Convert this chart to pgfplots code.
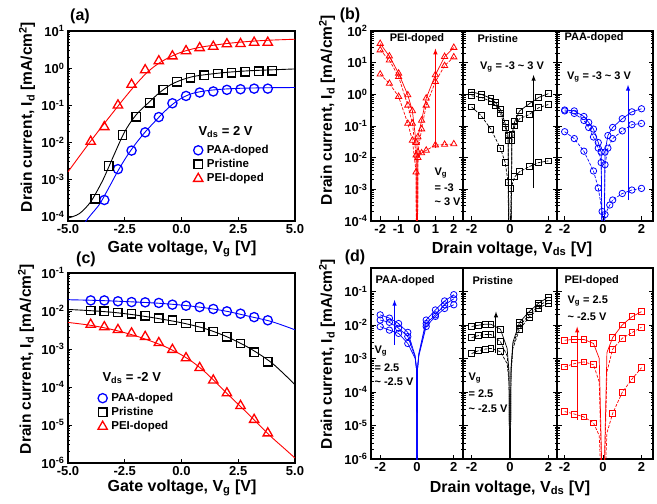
\documentclass[border=0pt]{standalone}
\usepackage{pgfplots}
\pgfplotsset{compat=1.18}
\usepackage{fontspec}
\setmainfont{Liberation Sans}
\newcommand{\fs}[1]{\fontsize{#1}{#1}\selectfont\bfseries}
\newcommand{\tl}{\textasciitilde}

\pgfplotsset{log number format basis/.code 2 args={#1\textsuperscript{\pgfmathprintnumber{#2}}}}
\pgfplotsset{
  /pgfplots/panel/.style={scale only axis, anchor=south west,
    axis line style={line width=1.1pt},
    every tick/.style={black, line width=0.8pt},
    major tick length=4.5pt, minor tick length=2.5pt,
    tick label style={font=\fs{13}},
    /pgf/number format/assume math mode=true},
  /pgfplots/bigp/.style={panel, width=227pt, height=190pt, xmin=-5, xmax=5,
    xtick={-5,-2.5,0,2.5,5}, xticklabels={-5.0,-2.5,0.0,2.5,5.0}, tick pos=left,
    legend cell align=left,
    legend style={draw=none, fill=none, anchor=north west, font=\fs{11.5},
      row sep=4pt, column sep=4pt,
      nodes={inner sep=0pt, text height=8pt, text depth=2pt}}},
  /pgfplots/subp/.style={panel, xtick pos=left, ytick pos=both},
  /pgfplots/pmk/.style={only marks, mark size=#1, line width=1.3pt},
  /pgfplots/cfit/.style={no markers, smooth, line width=0.9pt},
  /pgfplots/lsol/.style={no markers, line width=0.7pt},
  /pgfplots/ldash/.style={no markers, line width=0.7pt, dash pattern=on 3pt off 1.5pt},
  /pgfplots/smk/.style={only marks, line width=0.8pt, mark size=#1},
}

\begin{document}
\begin{tikzpicture}
\useasboundingbox (0,0) rectangle (657pt,504pt);

% ---------------- (a)
\begin{semilogyaxis}[bigp, at={(68pt,283pt)}, ymin=7.6e-5, ymax=10, ytickten={-4,...,1},
  legend style={at={(0.539,0.41)}}]
\addplot[blue, cfit, forget plot] coordinates {(-4.25,7e-5) (-4,1.1e-4) (-3.6,2.2e-4) (-3.2,6e-4) (-2.8,1.7e-3) (-2.4,4.3e-3) (-2.0,9.5e-3) (-1.6,0.019) (-1.2,0.035) (-0.8,0.063) (-0.4,0.105) (0,0.155) (0.4,0.2) (0.8,0.23) (1.2,0.25) (1.6,0.265) (2,0.275) (2.5,0.285) (3,0.29) (4,0.297) (5,0.3)};
\addplot[black, cfit, forget plot] coordinates {(-5,9.1e-5) (-4.5,1.2e-4) (-4,2.5e-4) (-3.5,8.7e-4) (-3.2,2.2e-3) (-3.0,4.2e-3) (-2.5,0.0195) (-2,0.055) (-1.5,0.11) (-1,0.21) (-0.5,0.35) (0,0.48) (0.5,0.59) (1,0.66) (2,0.77) (3,0.85) (4,0.9) (5,0.95)};
\addplot[red, cfit, forget plot] coordinates {(-5,1.6e-3) (-4.5,4.2e-3) (-4,0.0108) (-3.5,0.027) (-3,0.066) (-2.5,0.16) (-2,0.37) (-1.5,0.78) (-1,1.35) (-0.5,2.0) (0,2.7) (0.5,3.3) (1,3.8) (1.5,4.2) (2,4.6) (2.5,4.95) (3,5.25) (3.5,5.5) (4,5.7) (4.5,5.85) (5,6.0)};
\addplot[blue, pmk=4.6pt, mark=o] coordinates {(-3.4,2.8e-4) (-2.8,1.9e-3) (-2.2,6e-3) (-1.6,0.0186) (-1.0,0.048) (-0.4,0.113) (0.2,0.178) (0.8,0.22) (1.4,0.235) (2.0,0.26) (2.6,0.27) (3.2,0.28) (3.8,0.28)};
\addlegendentry{PAA-doped}
\addplot[black, pmk=4.2pt, mark=square] coordinates {(-3.8,3e-4) (-3.2,2.3e-3) (-2.6,0.0158) (-2.0,0.049) (-1.4,0.117) (-0.8,0.26) (-0.2,0.43) (0.4,0.55) (1.0,0.65) (1.6,0.72) (2.2,0.75) (2.8,0.8) (3.4,0.83) (4.0,0.85)};
\addlegendentry{Pristine}
\addplot[red, pmk=5.4pt, mark=triangle] coordinates {(-4.0,0.0105) (-3.4,0.026) (-2.8,0.10) (-2.2,0.36) (-1.6,0.89) (-1.0,1.55) (-0.4,2.1) (0.2,2.9) (0.8,3.5) (1.4,3.8) (2.0,4.45) (2.6,4.5) (3.2,4.9) (3.8,4.9)};
\addlegendentry{PEI-doped}
\end{semilogyaxis}

% ---------------- (b)
\begin{semilogyaxis}[subp, at={(371pt,283pt)}, width=92pt, height=190pt, xmin=-2.5, xmax=2.5,
  ymin=1e-4, ymax=100, ytickten={-4,...,2}, xtick={-2,-1,0,1,2}]
\addplot[red, lsol] coordinates {(-2,40) (-1.5,16) (-1,4.6) (-0.5,0.95) (-0.25,0.3) (-0.05,0.03) (0,1e-8) (0.05,0.045) (0.25,0.15) (0.5,0.75) (1,4.1) (1.5,15.5) (2,30)};
\addplot[red, ldash] coordinates {(-2,25) (-1.5,12) (-1,3.6) (-0.5,0.45) (-0.25,0.12) (-0.05,0.012) (0,1e-8) (0.05,0.015) (0.25,0.08) (0.5,0.45) (1,2.5) (1.5,8) (2,15)};
\addplot[red, ldash] coordinates {(-2,4.3) (-1.5,2.2) (-1,0.85) (-0.5,0.12) (-0.25,0.035) (-0.05,0.0035) (0,1e-8) (0.05,0.01) (0.25,0.014) (0.5,0.017) (1,0.025) (1.5,0.026) (2,0.027)};
\addplot[red, smk=3.6pt, mark=triangle] coordinates {(-2,40) (-1.5,16) (-1,4.6) (-0.5,0.95) (-0.25,0.3) (-0.05,0.03) (0.05,0.045) (0.25,0.15) (0.5,0.75) (1,4.1) (1.5,15.5) (2,30)};
\addplot[red, smk=3.6pt, mark=triangle] coordinates {(-2,25) (-1.5,12) (-1,3.6) (-0.5,0.45) (-0.25,0.12) (-0.05,0.012) (0.05,0.015) (0.25,0.08) (0.5,0.45) (1,2.5) (1.5,8) (2,15)};
\addplot[red, smk=3.6pt, mark=triangle] coordinates {(-2,4.3) (-1.5,2.2) (-1,0.85) (-0.5,0.12) (-0.25,0.035) (-0.05,0.0035) (0.05,0.01) (0.25,0.014) (0.5,0.017) (1,0.025) (1.5,0.026) (2,0.027)};
\draw[red, line width=1pt, -latex] (axis cs:1.0,0.02) -- (axis cs:1.0,28);
\end{semilogyaxis}

\begin{semilogyaxis}[subp, at={(463pt,283pt)}, width=94pt, height=190pt, xmin=-2.45, xmax=2.45,
  ymin=1e-4, ymax=100, ytickten={-4,...,2}, yticklabels={}, xtick={-2,0,2}]
\addplot[black, lsol] coordinates {(-2,1.2) (-1.5,1.0) (-1,0.75) (-0.75,0.55) (-0.5,0.33) (-0.25,0.12) (-0.1,0.05) (0,1e-8) (0.1,0.055) (0.25,0.14) (0.5,0.3) (1,0.5) (1.5,0.8) (2,1.05)};
\addplot[black, ldash] coordinates {(-2,0.9) (-1.5,0.8) (-1,0.6) (-0.75,0.45) (-0.5,0.25) (-0.25,0.09) (-0.1,0.035) (0,1e-8) (0.1,0.035) (0.25,0.1) (0.5,0.17) (1,0.23) (1.5,0.38) (2,0.48)};
\addplot[black, ldash] coordinates {(-2,0.4) (-1.5,0.21) (-1,0.08) (-0.5,0.02) (-0.25,0.007) (-0.1,0.0017) (0,1e-8) (0.05,0.0011) (0.25,0.0025) (0.5,0.0036) (1,0.0052) (1.5,0.007) (2,0.0079)};
\addplot[black, smk=2.9pt, mark=square] coordinates {(-2,1.2) (-1.5,1.0) (-1,0.75) (-0.75,0.55) (-0.5,0.33) (-0.25,0.12) (-0.1,0.05) (0.1,0.055) (0.25,0.14) (0.5,0.3) (1,0.5) (1.5,0.8) (2,1.05)};
\addplot[black, smk=2.9pt, mark=square] coordinates {(-2,0.9) (-1.5,0.8) (-1,0.6) (-0.75,0.45) (-0.5,0.25) (-0.25,0.09) (-0.1,0.035) (0.1,0.035) (0.25,0.1) (0.5,0.17) (1,0.23) (1.5,0.38) (2,0.48)};
\addplot[black, smk=2.9pt, mark=square] coordinates {(-2,0.4) (-1.5,0.21) (-1,0.08) (-0.5,0.02) (-0.25,0.007) (-0.1,0.0017) (0.05,0.0011) (0.25,0.0025) (0.5,0.0036) (1,0.0052) (1.5,0.007) (2,0.0079)};
\draw[black, line width=1pt, -latex] (axis cs:1.23,1.1e-3) -- (axis cs:1.23,4.1);
\end{semilogyaxis}

\begin{semilogyaxis}[subp, at={(557pt,283pt)}, width=96pt, height=190pt, xmin=-2.4, xmax=2.6,
  ymin=1e-4, ymax=100, ytickten={-4,...,2}, yticklabels={}, xtick={-2,0,2}]
\addplot[blue, lsol] coordinates {(-2,0.32) (-1.5,0.3) (-1,0.2) (-0.75,0.13) (-0.5,0.08) (-0.25,0.03) (-0.1,0.015) (0,1e-8) (0.1,0.015) (0.25,0.05) (0.5,0.09) (1,0.17) (1.5,0.28) (2,0.35)};
\addplot[blue, ldash] coordinates {(-2,0.3) (-1.5,0.25) (-1,0.15) (-0.75,0.09) (-0.5,0.045) (-0.25,0.02) (-0.1,0.007) (0,1e-8) (0.1,0.006) (0.25,0.02) (0.5,0.04) (1,0.07) (1.5,0.11) (2,0.12)};
\addplot[blue, ldash] coordinates {(-2,0.066) (-1.5,0.04) (-1,0.016) (-0.5,0.0038) (-0.25,0.0011) (-0.05,0.0002) (0,1e-8) (0.1,0.00016) (0.35,0.00032) (0.5,0.00046) (1,0.00074) (1.5,0.00095) (2,0.00107)};
\addplot[blue, smk=3.2pt, mark=o] coordinates {(-2,0.32) (-1.5,0.3) (-1,0.2) (-0.75,0.13) (-0.5,0.08) (-0.25,0.03) (-0.1,0.015) (0.1,0.015) (0.25,0.05) (0.5,0.09) (1,0.17) (1.5,0.28) (2,0.35)};
\addplot[blue, smk=3.2pt, mark=o] coordinates {(-2,0.3) (-1.5,0.25) (-1,0.15) (-0.75,0.09) (-0.5,0.045) (-0.25,0.02) (-0.1,0.007) (0.1,0.006) (0.25,0.02) (0.5,0.04) (1,0.07) (1.5,0.11) (2,0.12)};
\addplot[blue, smk=3.2pt, mark=o] coordinates {(-2,0.066) (-1.5,0.04) (-1,0.016) (-0.5,0.0038) (-0.25,0.0011) (-0.05,0.0002) (0.1,0.00016) (0.35,0.00032) (0.5,0.00046) (1,0.00074) (1.5,0.00095) (2,0.00107)};
\draw[blue, line width=1pt, -latex] (axis cs:1.3,4.6e-4) -- (axis cs:1.3,2.0);
\end{semilogyaxis}

% ---------------- (c)
\begin{semilogyaxis}[bigp, at={(68pt,41pt)}, ymin=1e-6, ymax=0.1, ytickten={-6,...,-1},
  legend style={at={(0.118,0.379)}}]
\addplot[blue, cfit, forget plot] coordinates {(-5,0.0198) (-4,0.0192) (-3,0.0183) (-2,0.0172) (-1,0.016) (0,0.0143) (1,0.0122) (2,0.0098) (3,0.0072) (4,0.0052) (5,0.0032)};
\addplot[black, cfit, forget plot] coordinates {(-5,0.011) (-4,0.0102) (-3,0.0092) (-2,0.0078) (-1,0.0063) (0,0.0049) (1,0.0035) (2,0.0021) (3,0.00105) (4,4.2e-4) (5,1.15e-4)};
\addplot[red, cfit, forget plot] coordinates {(-5,5e-3) (-4,4.2e-3) (-3,3.2e-3) (-2,2.2e-3) (-1,1.35e-3) (-0.5,1.0e-3) (0,7e-4) (0.5,4.5e-4) (1,2.6e-4) (1.5,1.35e-4) (2,6.8e-5) (2.5,3.5e-5) (3,1.8e-5) (3.5,9e-6) (4,4.6e-6) (4.5,2.5e-6) (5,1.35e-6)};
\addplot[blue, pmk=4.6pt, mark=o] coordinates {(-4.0,0.019) (-3.4,0.019) (-2.8,0.018) (-2.2,0.0172) (-1.6,0.0169) (-1.0,0.0163) (-0.4,0.0147) (0.2,0.0138) (0.8,0.0127) (1.4,0.0113) (2.0,0.0098) (2.6,0.0085) (3.2,0.0069) (3.8,0.0057)};
\addlegendentry{PAA-doped}
\addplot[black, pmk=4.2pt, mark=square] coordinates {(-4.0,0.0104) (-3.4,0.0098) (-2.8,0.0092) (-2.2,0.0085) (-1.6,0.0075) (-1.0,0.0065) (-0.4,0.0057) (0.2,0.0047) (0.8,0.0038) (1.4,0.0029) (2.0,0.0021) (2.6,0.00139) (3.2,8.3e-4) (3.8,4.6e-4)};
\addlegendentry{Pristine}
\addplot[red, pmk=5.4pt, mark=triangle] coordinates {(-4.0,0.0044) (-3.4,0.0038) (-2.8,0.0032) (-2.2,0.0026) (-1.6,0.0021) (-1.0,0.00145) (-0.4,9.6e-4) (0.2,5.8e-4) (0.8,3.2e-4) (1.4,1.5e-4) (2.0,6.9e-5) (2.6,3.2e-5) (3.2,1.38e-5) (3.8,6.1e-6)};
\addlegendentry{PEI-doped}
\end{semilogyaxis}

% ---------------- (d)
\begin{semilogyaxis}[subp, at={(371pt,45pt)}, width=92pt, height=191pt, xmin=-2.5, xmax=2.5,
  ymin=1e-6, ymax=0.5, ytickten={-6,...,-1}, xtick={-2,0,2}]
\addplot[blue, lsol] coordinates {(-2,0.02) (-1.5,0.016) (-1,0.011) (-0.5,0.006) (-0.1,0.0012) (-0.03,0.0005) (0,1e-8) (0.03,0.0005) (0.1,0.0014) (0.5,0.014) (1,0.028) (1.5,0.052) (2,0.08)};
\addplot[blue, lsol] coordinates {(-2,0.014) (-1.5,0.012) (-1,0.008) (-0.5,0.0045) (-0.1,0.0011) (-0.03,0.0005) (0,1e-8) (0.03,0.0005) (0.1,0.0013) (0.5,0.011) (1,0.02) (1.5,0.04) (2,0.06)};
\addplot[blue, lsol] coordinates {(-2,0.0089) (-1.5,0.007) (-1,0.0056) (-0.5,0.0028) (-0.1,0.001) (-0.03,0.0005) (0,1e-8) (0.03,0.0005) (0.1,0.0012) (0.5,0.009) (1,0.018) (1.5,0.031) (2,0.04)};
\addplot[blue, smk=3.2pt, mark=o] coordinates {(-2,0.02) (-1.5,0.016) (-1,0.011) (-0.5,0.006) (0.5,0.014) (1,0.028) (1.5,0.052) (2,0.08)};
\addplot[blue, smk=3.2pt, mark=o] coordinates {(-2,0.014) (-1.5,0.012) (-1,0.008) (-0.5,0.0045) (0.5,0.011) (1,0.02) (1.5,0.04) (2,0.06)};
\addplot[blue, smk=3.2pt, mark=o] coordinates {(-2,0.0089) (-1.5,0.007) (-1,0.0056) (-0.5,0.0028) (0.5,0.009) (1,0.018) (1.5,0.031) (2,0.04)};
\draw[blue, line width=1pt, -latex] (axis cs:-1.22,2.6e-3) -- (axis cs:-1.22,0.056);
\end{semilogyaxis}

\begin{semilogyaxis}[subp, at={(463pt,45pt)}, width=94pt, height=191pt, xmin=-2.45, xmax=2.45,
  ymin=1e-6, ymax=0.5, ytickten={-6,...,-1}, yticklabels={}, xtick={-2,0,2}]
\addplot[black, lsol] coordinates {(-2,0.009) (-1.65,0.0098) (-1.3,0.0105) (-1,0.0105) (-0.5,0.0075) (-0.15,0.002) (-0.05,4e-4) (0,1e-8) (0.05,5e-4) (0.15,0.003) (0.5,0.012) (1,0.025) (1.5,0.045) (2,0.068)};
\addplot[black, ldash] coordinates {(-2,0.0042) (-1.65,0.0048) (-1.3,0.0052) (-1,0.0052) (-0.5,0.0032) (-0.15,0.0012) (-0.05,3e-4) (0,1e-8) (0.05,4e-4) (0.15,0.0025) (0.5,0.0095) (1,0.02) (1.5,0.038) (2,0.055)};
\addplot[black, ldash] coordinates {(-2,0.0014) (-1.65,0.0017) (-1.3,0.0019) (-1,0.002) (-0.5,0.0016) (-0.15,7e-4) (-0.05,2e-4) (0,1e-8) (0.05,3e-4) (0.15,0.002) (0.5,0.0075) (1,0.017) (1.5,0.032) (2,0.045)};
\addplot[black, smk=2.9pt, mark=square] coordinates {(-2,0.009) (-1.65,0.0098) (-1.3,0.0105) (-1,0.0105) (-0.5,0.0075) (0.5,0.012) (1,0.025) (1.5,0.045) (2,0.068)};
\addplot[black, smk=2.9pt, mark=square] coordinates {(-2,0.0042) (-1.65,0.0048) (-1.3,0.0052) (-1,0.0052) (-0.5,0.0032) (0.5,0.0095) (1,0.02) (1.5,0.038) (2,0.055)};
\addplot[black, smk=2.9pt, mark=square] coordinates {(-2,0.0014) (-1.65,0.0017) (-1.3,0.0019) (-1,0.002) (-0.5,0.0016) (0.5,0.0075) (1,0.017) (1.5,0.032) (2,0.045)};
\draw[black, line width=1pt, -latex] (axis cs:-0.73,1.5e-3) -- (axis cs:-0.73,0.025);
\end{semilogyaxis}

\begin{semilogyaxis}[subp, at={(557pt,45pt)}, width=96pt, height=191pt, xmin=-2.4, xmax=2.6,
  ymin=1e-6, ymax=0.5, ytickten={-6,...,-1}, yticklabels={}, xtick={-2,0,2}]
\addplot[red, lsol] coordinates {(-2,0.0035) (-1.5,0.0037) (-1,0.0037) (-0.5,0.0028) (-0.2,0.001) (0,1e-8) (0.2,0.0015) (0.5,0.0042) (1,0.01) (1.5,0.0175) (2,0.025)};
\addplot[red, ldash] coordinates {(-2,0.00056) (-1.5,0.0007) (-1,0.00079) (-0.5,0.00065) (-0.2,2e-4) (0,1e-8) (0.2,4e-4) (0.5,0.0019) (1,0.004) (1.5,0.0059) (2,0.0085)};
\addplot[red, ldash] coordinates {(-2,2.6e-5) (-1.5,2.2e-5) (-1,1.8e-5) (-0.5,1.2e-5) (-0.2,5e-6) (0,1e-8) (0.2,6e-6) (0.5,2.3e-5) (1,9.8e-5) (1.5,2.4e-4) (2,5.3e-4)};
\addplot[red, smk=2.9pt, mark=square] coordinates {(-2,0.0035) (-1.5,0.0037) (-1,0.0037) (-0.5,0.0028) (0.5,0.0042) (1,0.01) (1.5,0.0175) (2,0.025)};
\addplot[red, smk=2.9pt, mark=square] coordinates {(-2,0.00056) (-1.5,0.0007) (-1,0.00079) (-0.5,0.00065) (0.5,0.0019) (1,0.004) (1.5,0.0059) (2,0.0085)};
\addplot[red, smk=2.9pt, mark=square] coordinates {(-2,2.6e-5) (-1.5,2.2e-5) (-1,1.8e-5) (-0.5,1.2e-5) (0.5,2.3e-5) (1,9.8e-5) (1.5,2.4e-4) (2,5.3e-4)};
\draw[red, line width=1pt, -latex] (axis cs:-1.35,1.5e-5) -- (axis cs:-1.35,8.9e-3);
\end{semilogyaxis}

% ---------------- labels
\node[font=\fs{16}] at (80pt,488pt) {(a)};
\node[font=\fs{16}] at (350pt,489pt) {(b)};
\node[font=\fs{16}] at (86pt,245pt) {(c)};
\node[font=\fs{16}] at (355pt,247pt) {(d)};

\node[font=\fs{15.5}, rotate=90] at (27pt,387pt) {Drain current, I\textsubscript{d} [mA/cm\textsuperscript{2}]};
\node[font=\fs{15.5}, rotate=90] at (26pt,145pt) {Drain current, I\textsubscript{d} [mA/cm\textsuperscript{2}]};
\node[font=\fs{15.5}, rotate=90] at (327pt,394pt) {Drain current, I\textsubscript{d} [mA/cm\textsuperscript{2}]};
\node[font=\fs{15.5}, rotate=90] at (327pt,150pt) {Drain current, I\textsubscript{d} [mA/cm\textsuperscript{2}]};

\node[font=\fs{16}] at (182pt,255pt) {Gate voltage, V\textsubscript{g} [V]};
\node[font=\fs{16}] at (182pt,16pt) {Gate voltage, V\textsubscript{g} [V]};
\node[font=\fs{16}] at (512pt,255pt) {Drain voltage, V\textsubscript{ds} [V]};
\node[font=\fs{16}] at (510pt,16pt) {Drain voltage, V\textsubscript{ds} [V]};

\node[font=\fs{13}, anchor=west] at (195pt,372pt) {V\textsubscript{ds} = 2 V};
\node[font=\fs{13}, anchor=west] at (99pt,126pt) {V\textsubscript{ds} = -2 V};

\node[font=\fs{11}] at (417pt,465pt) {PEI-doped};
\node[font=\fs{11}, anchor=west] at (474pt,465pt) {Pristine};
\node[font=\fs{11}, anchor=west] at (561pt,466pt) {PAA-doped};
\node[font=\fs{11}, anchor=west] at (431pt,331pt) {V\textsubscript{g}};
\node[font=\fs{11}, anchor=west] at (431pt,316pt) {= -3};
\node[font=\fs{11}, anchor=west] at (431pt,302pt) {\tl\ 3 V};
\node[font=\fs{11}] at (512pt,437pt) {V\textsubscript{g} = -3 \tl\ 3 V};
\node[font=\fs{11}] at (599pt,427pt) {V\textsubscript{g} = -3 \tl\ 3 V};

\node[font=\fs{11}, anchor=west] at (372pt,223pt) {PAA-doped};
\node[font=\fs{11}, anchor=west] at (469pt,223pt) {Pristine};
\node[font=\fs{11}, anchor=west] at (561pt,223pt) {PEI-doped};
\node[font=\fs{11}, anchor=west] at (371pt,153pt) {V\textsubscript{g}};
\node[font=\fs{11}, anchor=west] at (371pt,136pt) {= 2.5};
\node[font=\fs{11}, anchor=west] at (371pt,122pt) {\tl\ -2.5 V};
\node[font=\fs{11}, anchor=west] at (465pt,126pt) {V\textsubscript{g}};
\node[font=\fs{11}, anchor=west] at (465pt,110pt) {= 2.5};
\node[font=\fs{11}, anchor=west] at (465pt,95pt) {\tl\ -2.5 V};
\node[font=\fs{11}, anchor=west] at (564pt,203pt) {V\textsubscript{g} = 2.5};
\node[font=\fs{11}, anchor=west] at (564pt,187pt) {\tl\ -2.5 V};
\end{tikzpicture}
\end{document}
